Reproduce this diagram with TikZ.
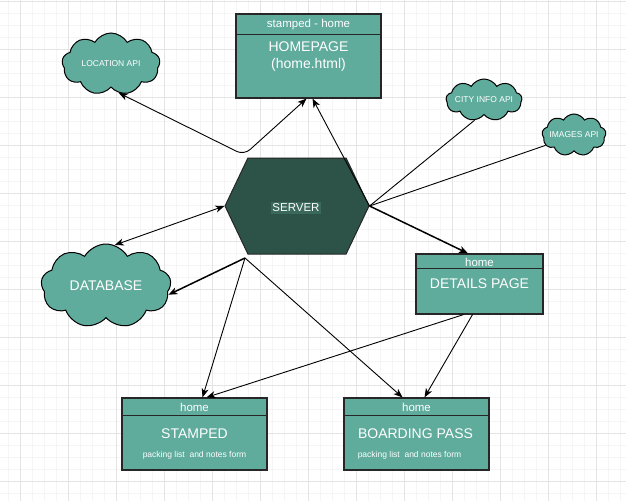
\documentclass[tikz,border=0pt]{standalone}
\usepackage{fontspec}
\setmainfont{Liberation Sans}
\usetikzlibrary{arrows.meta, positioning, shapes.symbols}
\definecolor{tealbox}{RGB}{95,171,156}
\definecolor{serverdark}{RGB}{45,82,72}
\definecolor{serverlbl}{RGB}{58,104,92}
\definecolor{gridminor}{RGB}{245,245,245}
\definecolor{gridmajor}{RGB}{228,228,228}

\begin{document}
\begin{tikzpicture}[
      x=1pt, y=-1pt,
      page/.style={draw=black!85, line width=1.2pt, fill=tealbox, inner sep=0pt},
      pageline/.style={draw=black!85, line width=1.2pt},
      hdtext/.style={text=white, font=\fontsize{11.5}{13}\selectfont, inner sep=0pt},
      bigtext/.style={text=white, font=\fontsize{14}{17}\selectfont, inner sep=0pt, align=center},
      smalltext/.style={text=white, font=\fontsize{8.5}{10}\selectfont, inner sep=0pt},
      cloudtext/.style={text=white, font=\fontsize{8.5}{10}\selectfont, inner sep=0pt},
      apicloud/.style={cloud, cloud puffs=9, cloud puff arc=120, aspect=1.6, draw=black, line width=1pt, fill=tealbox, inner sep=0pt},
      hexsrv/.style={signal, signal to=east and west, signal pointer angle=129, draw=black!85, line width=1pt, fill=serverdark, minimum width=144pt, minimum height=96pt, inner sep=0pt},
      arr/.style={-{Stealth[length=9pt, width=7pt, inset=2.5pt]}, line width=0.9pt},
      arrbold/.style={arr, line width=1.5pt},
      arrboth/.style={{Stealth[length=9pt, width=7pt, inset=2.5pt]}-{Stealth[length=9pt, width=7pt, inset=2.5pt]}, line width=0.9pt},
      plain/.style={line width=0.9pt}
    ]
    \useasboundingbox[fill=white] (0,0) rectangle (626,501);
    % grid
    \foreach \gx in {8,20,...,620} {\draw[gridminor, line width=0.6pt] (\gx,0) -- (\gx,501);}
    \foreach \gy in {1,13,...,499} {\draw[gridminor, line width=0.6pt] (0,\gy) -- (626,\gy);}
    \foreach \gx in {20,68,...,596} {\draw[gridmajor, line width=0.8pt] (\gx,0) -- (\gx,501);}
    \foreach \gy in {1,49,...,481} {\draw[gridmajor, line width=0.8pt] (0,\gy) -- (626,\gy);}

    % pages
    \node[page, minimum width=145pt, minimum height=84pt] (home) at (308.5,56) {};
    \draw[pageline] ([yshift=-21pt]home.north west) -- ([yshift=-21pt]home.north east);
    \node[hdtext] (homehd) at (308.5,24.5) {stamped - home};
    \node[bigtext] (hometx) at (308.5,56.5) {HOMEPAGE\\(home.html)};

    \node[page, minimum width=127pt, minimum height=60pt] (details) at (479.5,284) {};
    \draw[pageline] ([yshift=-15pt]details.north west) -- ([yshift=-15pt]details.north east);
    \node[hdtext] (dethd) at (479.5,262) {home};
    \node[bigtext] (dettx) at (479.5,284) {DETAILS PAGE};

    \node[page, minimum width=145pt, minimum height=72pt] (stamped) at (194.5,434) {};
    \draw[pageline] ([yshift=-18pt]stamped.north west) -- ([yshift=-18pt]stamped.north east);
    \node[hdtext] (sthd) at (194.5,407) {home};
    \node[bigtext] (sttx) at (194.5,434) {STAMPED};
    \node[smalltext] (stsub) at (194.5,455) {packing list\ \ and notes form};

    \node[page, minimum width=145pt, minimum height=72pt] (board) at (416.5,434) {};
    \draw[pageline] ([yshift=-18pt]board.north west) -- ([yshift=-18pt]board.north east);
    \node[hdtext] (bdhd) at (416.5,407) {home};
    \node[bigtext] (bdtx) at (415.5,434) {BOARDING PASS};
    \node[smalltext] (bdsub) at (409.5,455) {packing list\ \ and notes form};

    % clouds
    \node[apicloud, minimum width=98pt, minimum height=62pt, label={[cloudtext]center:LOCATION API}] (loc) at (111,64) {};
    \node[apicloud, minimum width=76pt, minimum height=42pt, label={[cloudtext]center:CITY INFO API}] (city) at (484,100) {};
    \node[apicloud, minimum width=64pt, minimum height=42pt, label={[cloudtext]center:IMAGES API}] (images) at (574,135) {};
    \node[apicloud, minimum width=130pt, minimum height=84pt, label={[bigtext]center:DATABASE}] (db) at (106,286) {};

    % server
    \node[hexsrv] (srv) at (297,206) {};
    \node[hdtext, fill=serverlbl, inner sep=1.5pt] (srvtx) at (296,208) {SERVER};

    \coordinate (locbend) at (244,155);
    \coordinate (srvfoot) at (245,258);

    \draw[arrboth, rounded corners=8pt] (loc.-75) -- (locbend) -- ([xshift=-2pt]home.south);
    \draw[arr] (srv.east) -- ([xshift=4pt]home.south);
    \draw[plain] (city.-115) -- (srv.east);
    \draw[plain] (images.-160) -- (srv.east);
    \draw[arrbold] (srv.east) -- ([xshift=-11.5pt]details.north);
    \draw[arrboth] (db.78) -- (srv.west);
    \draw[arrbold] (srvfoot) -- (db.-8);
    \draw[arr] (srvfoot) -- ([xshift=8pt]stamped.north);
    \draw[arr] (srvfoot) -- ([xshift=-14pt]board.north);
    \draw[arr] ([xshift=-16pt]details.south) -- ([xshift=12pt]stamped.north);
    \draw[arr] ([xshift=-7pt]details.south) -- ([xshift=8pt]board.north);
  \end{tikzpicture}
\end{document}
